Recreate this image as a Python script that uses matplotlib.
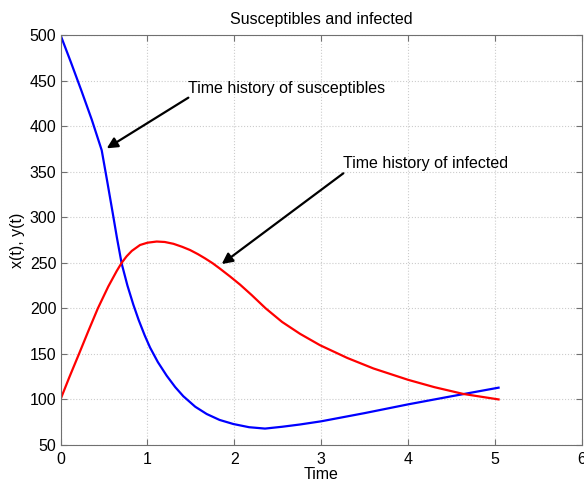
import numpy as np
import matplotlib.pyplot as plt

plt.rcParams['font.family'] = ['Liberation Sans', 'DejaVu Sans']

# Susceptibles x(t)
t_sus = [0, 0.12, 0.24, 0.36, 0.474, 0.54, 0.60, 0.65, 0.704, 0.77, 0.838,
         0.9, 0.97, 1.03, 1.12, 1.222, 1.32, 1.413, 1.55, 1.682, 1.83, 1.989,
         2.17, 2.353, 2.55, 2.756, 3.0, 3.5, 4.0, 4.5, 5.04]
x_sus = [500, 470, 439, 407, 373.5, 338, 305, 277, 249, 225, 204,
         187, 170, 157, 141, 126, 113.5, 103.5, 92, 84, 77.5, 73,
         69.5, 68, 70, 72.5, 76, 85, 94.6, 103.5, 112.9]

# Infected y(t)
t_inf = [0, 0.1, 0.213, 0.32, 0.43, 0.55, 0.647, 0.704, 0.76, 0.82, 0.915,
         1.0, 1.107, 1.2, 1.3, 1.4, 1.49, 1.58, 1.66, 1.75, 1.835, 1.95,
         2.066, 2.2, 2.36, 2.55, 2.756, 2.986, 3.3, 3.6, 4.0, 4.3, 4.635, 5.04]
y_inf = [100, 124, 150, 175, 200, 224, 241, 250, 257, 263, 269.5,
         272, 273.3, 272.8, 270.8, 267.5, 264, 259.5, 255, 249.5, 243.5, 235,
         226, 214.5, 200, 185, 172, 159.5, 145.5, 134, 121.5, 113.5, 106, 100]

fig = plt.figure(figsize=(5.84, 4.82), dpi=100)
ax = fig.add_axes([0.1036, 0.0768, 0.893, 0.8506])

ax.plot(t_sus, x_sus, color='#0000ff', lw=1.6)
ax.plot(t_inf, y_inf, color='#ff0000', lw=1.6)

ax.set_xlim(0, 6)
ax.set_ylim(50, 500)
ax.set_xticks(np.arange(0, 7, 1))
ax.set_yticks(np.arange(50, 501, 50))
ax.grid(True, linestyle=':', color='#cccccc', lw=0.8)

for s in ax.spines.values():
    s.set_color('#707070')
ax.tick_params(direction='in', top=True, right=True, length=4,
               color='#707070', labelsize=11.5)
ax.tick_params(axis='x', pad=5)
ax.tick_params(axis='y', pad=3)

ax.set_title('Susceptibles and infected', fontsize=11.5, pad=8)
ax.set_xlabel('Time', fontsize=11.5, labelpad=0)
ax.set_ylabel('x(t), y(t)', fontsize=11.5, labelpad=3)

arrow = dict(arrowstyle='-|>', color='black', lw=1.6, mutation_scale=16,
             shrinkA=0, shrinkB=0)
ax.text(1.47, 441.5, 'Time history of susceptibles', fontsize=11.5, va='center')
ax.annotate('', xy=(0.532, 375.6), xytext=(1.471, 431.2), arrowprops=arrow)
ax.text(3.254, 359.2, 'Time history of infected', fontsize=11.5, va='center')
ax.annotate('', xy=(1.855, 248.6), xytext=(3.254, 348.2), arrowprops=arrow)

fig.savefig('out.png', dpi=100)
